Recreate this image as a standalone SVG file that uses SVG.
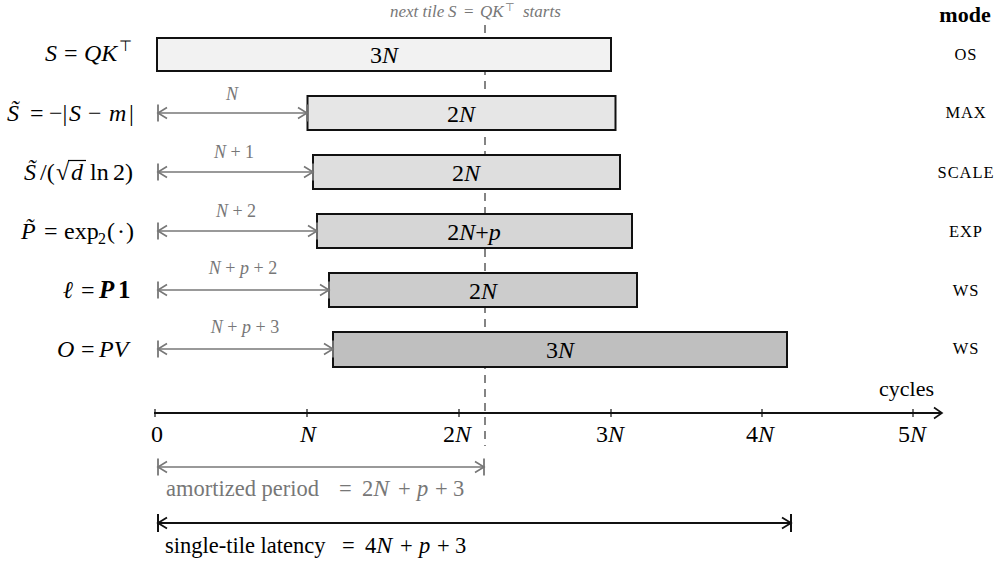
<svg xmlns="http://www.w3.org/2000/svg" width="997" height="561" viewBox="0 0 997 561">
<style>
text{font-family:"Liberation Serif","Times New Roman",serif;fill:#000}
.i{font-style:italic}
.n{font-style:normal}
.lab{font-size:24px}
.bt{font-size:24px;text-anchor:middle}
.off{font-size:18px;text-anchor:middle;fill:#777}
.mode{font-size:16.5px;text-anchor:middle;letter-spacing:0.9px}
.tl{font-size:24px;text-anchor:middle}
.bar{stroke:#111;stroke-width:2}
.ga{stroke:#777;stroke-width:1.6;fill:none}
.ka{stroke:#111;stroke-width:1.8;fill:none}
.tick{stroke:#111;stroke-width:1.2}
.gray{fill:#777}
</style>
<defs>
<marker id="ag" viewBox="-12 -10 14 20" refX="0" refY="0" markerWidth="14" markerHeight="20" markerUnits="userSpaceOnUse" orient="auto-start-reverse">
<path d="M-9,-5.5 L0,0 L-9,5.5" fill="none" stroke="#777" stroke-width="1.6"/>
<path d="M0,-8.5 V8.5" stroke="#777" stroke-width="1.8"/>
</marker>
<marker id="ak" viewBox="-12 -10 14 20" refX="0" refY="0" markerWidth="14" markerHeight="20" markerUnits="userSpaceOnUse" orient="auto-start-reverse">
<path d="M-9,-5.5 L0,0 L-9,5.5" fill="none" stroke="#111" stroke-width="1.8"/>
<path d="M0,-9 V9" stroke="#111" stroke-width="2"/>
</marker>
<marker id="ax" viewBox="-12 -10 14 20" refX="0" refY="0" markerWidth="14" markerHeight="20" markerUnits="userSpaceOnUse" orient="auto">
<path d="M-8,-5.5 L0,0 L-8,5.5" fill="none" stroke="#111" stroke-width="1.6"/>
</marker>
</defs>

<text font-size="17" font-style="italic" class="gray" y="17"><tspan x="390">next tile</tspan><tspan x="448">S</tspan><tspan x="464" class="n">=</tspan><tspan x="480">QK</tspan><tspan x="505" font-size="11" dy="-6" class="n">⊤</tspan><tspan x="523" dy="6">starts</tspan></text>
<line x1="485" y1="25" x2="485" y2="446" stroke="#666" stroke-width="1.6" stroke-dasharray="8 6"/>

<text x="965" y="22" font-size="22" font-weight="bold" text-anchor="middle">mode</text>

<g id="row-s">
<text class="lab" y="61"><tspan x="45" class="i">S</tspan><tspan x="64">=</tspan><tspan x="84" class="i">QK</tspan><tspan x="119" font-size="15" dy="-10">⊤</tspan></text>
<rect class="bar" x="157" y="38" width="454" height="33" fill="#f2f2f2"/>
<text class="bt" x="384" y="63">3<tspan class="i">N</tspan></text>
<text class="mode" x="966" y="60">OS</text>
</g>

<g id="row-max">
<text class="lab" y="121"><tspan x="7" class="i">S̃</tspan><tspan x="30">=</tspan><tspan x="49">−|</tspan><tspan x="69" class="i">S</tspan><tspan x="88">−</tspan><tspan x="109" class="i">m</tspan><tspan x="129">|</tspan></text>
<rect class="bar" x="307.5" y="96" width="308" height="34" fill="#e6e6e6"/>
<text class="bt" x="461" y="122">2<tspan class="i">N</tspan></text>
<text class="mode" x="966" y="118">MAX</text>
</g>

<g id="row-scale">
<text class="lab" y="180"><tspan x="24" class="i">S̃</tspan><tspan x="40">/(</tspan><tspan x="56">√</tspan><tspan x="71" class="i">d</tspan><tspan x="90">ln</tspan><tspan x="113">2)</tspan></text>
<line x1="68" y1="160.5" x2="86" y2="160.5" stroke="#000" stroke-width="1.2"/>
<rect class="bar" x="313" y="155" width="307" height="34" fill="#dedede"/>
<text class="bt" x="466" y="181">2<tspan class="i">N</tspan></text>
<text class="mode" x="966" y="178">SCALE</text>
</g>

<g id="row-exp">
<text class="lab" y="239"><tspan x="21" class="i">P̃</tspan><tspan x="44">=</tspan><tspan x="64">exp</tspan><tspan x="98" font-size="16" dy="5">2</tspan><tspan x="107" dy="-5">(</tspan><tspan x="117">·</tspan><tspan x="126">)</tspan></text>
<rect class="bar" x="317" y="214" width="315" height="34" fill="#d6d6d6"/>
<text class="bt" x="474" y="240">2<tspan class="i">N</tspan>+<tspan class="i">p</tspan></text>
<text class="mode" x="966" y="237">EXP</text>
</g>

<g id="row-l">
<text class="lab" y="298"><tspan x="63" class="i">ℓ</tspan><tspan x="81">=</tspan><tspan x="99" font-size="25" font-weight="bold" font-style="italic">P</tspan><tspan x="118" font-size="25" font-weight="bold">1</tspan></text>
<rect class="bar" x="329" y="273" width="308" height="34" fill="#cccccc"/>
<text class="bt" x="483" y="299">2<tspan class="i">N</tspan></text>
<text class="mode" x="966" y="296">WS</text>
</g>

<g id="row-o">
<text class="lab" y="357"><tspan x="57" class="i">O</tspan><tspan x="81">=</tspan><tspan x="99" class="i">PV</tspan></text>
<rect class="bar" x="333" y="332" width="454" height="35" fill="#bfbfbf"/>
<text class="bt" x="560" y="358">3<tspan class="i">N</tspan></text>
<text class="mode" x="966" y="354">WS</text>
</g>

<g id="connectors">
<line class="ga" x1="158" y1="113" x2="307" y2="113" marker-start="url(#ag)" marker-end="url(#ag)"/>
<line class="ga" x1="158" y1="172" x2="313" y2="172" marker-start="url(#ag)" marker-end="url(#ag)"/>
<line class="ga" x1="158" y1="231" x2="317" y2="231" marker-start="url(#ag)" marker-end="url(#ag)"/>
<line class="ga" x1="158" y1="290" x2="329" y2="290" marker-start="url(#ag)" marker-end="url(#ag)"/>
<line class="ga" x1="158" y1="349" x2="333" y2="349" marker-start="url(#ag)" marker-end="url(#ag)"/>
<line class="ga" x1="158" y1="467" x2="484" y2="467" marker-start="url(#ag)" marker-end="url(#ag)"/>
<line class="ka" x1="158" y1="523" x2="791" y2="523" marker-start="url(#ak)" marker-end="url(#ak)"/>
<line class="ka" x1="154" y1="413" x2="942" y2="413" marker-end="url(#ax)"/>
</g>

<text class="off" x="232" y="100" font-style="italic">N</text>
<text class="off" x="234" y="158"><tspan class="i">N</tspan> + 1</text>
<text class="off" x="236" y="217"><tspan class="i">N</tspan> + 2</text>
<text class="off" x="243" y="274"><tspan class="i">N</tspan> + <tspan class="i">p</tspan> + 2</text>
<text class="off" x="245" y="333"><tspan class="i">N</tspan> + <tspan class="i">p</tspan> + 3</text>

<g id="axis-ticks">
<line class="tick" x1="155" y1="409" x2="155" y2="417"/>
<line class="tick" x1="307" y1="409" x2="307" y2="417"/>
<line class="tick" x1="459" y1="409" x2="459" y2="417"/>
<line class="tick" x1="611" y1="409" x2="611" y2="417"/>
<line class="tick" x1="762" y1="409" x2="762" y2="417"/>
<line class="tick" x1="913" y1="409" x2="913" y2="417"/>
</g>
<text class="tl" x="157" y="442">0</text>
<text class="tl i" x="308" y="442">N</text>
<text class="tl" x="457" y="442">2<tspan class="i">N</tspan></text>
<text class="tl" x="610" y="442">3<tspan class="i">N</tspan></text>
<text class="tl" x="760" y="442">4<tspan class="i">N</tspan></text>
<text class="tl" x="912" y="442">5<tspan class="i">N</tspan></text>
<text x="934" y="396" font-size="22" text-anchor="end">cycles</text>

<text font-size="22.5" class="gray" y="496"><tspan x="166">amortized period</tspan><tspan x="339">=</tspan><tspan x="362">2</tspan><tspan class="i" font-size="24">N</tspan><tspan x="398">+</tspan><tspan x="417" class="i">p</tspan><tspan x="435">+</tspan><tspan x="453">3</tspan></text>
<text font-size="22.5" y="553"><tspan x="165">single-tile latency</tspan><tspan x="342">=</tspan><tspan x="365">4</tspan><tspan class="i" font-size="24">N</tspan><tspan x="400">+</tspan><tspan x="419" class="i">p</tspan><tspan x="437">+</tspan><tspan x="455">3</tspan></text>
</svg>
